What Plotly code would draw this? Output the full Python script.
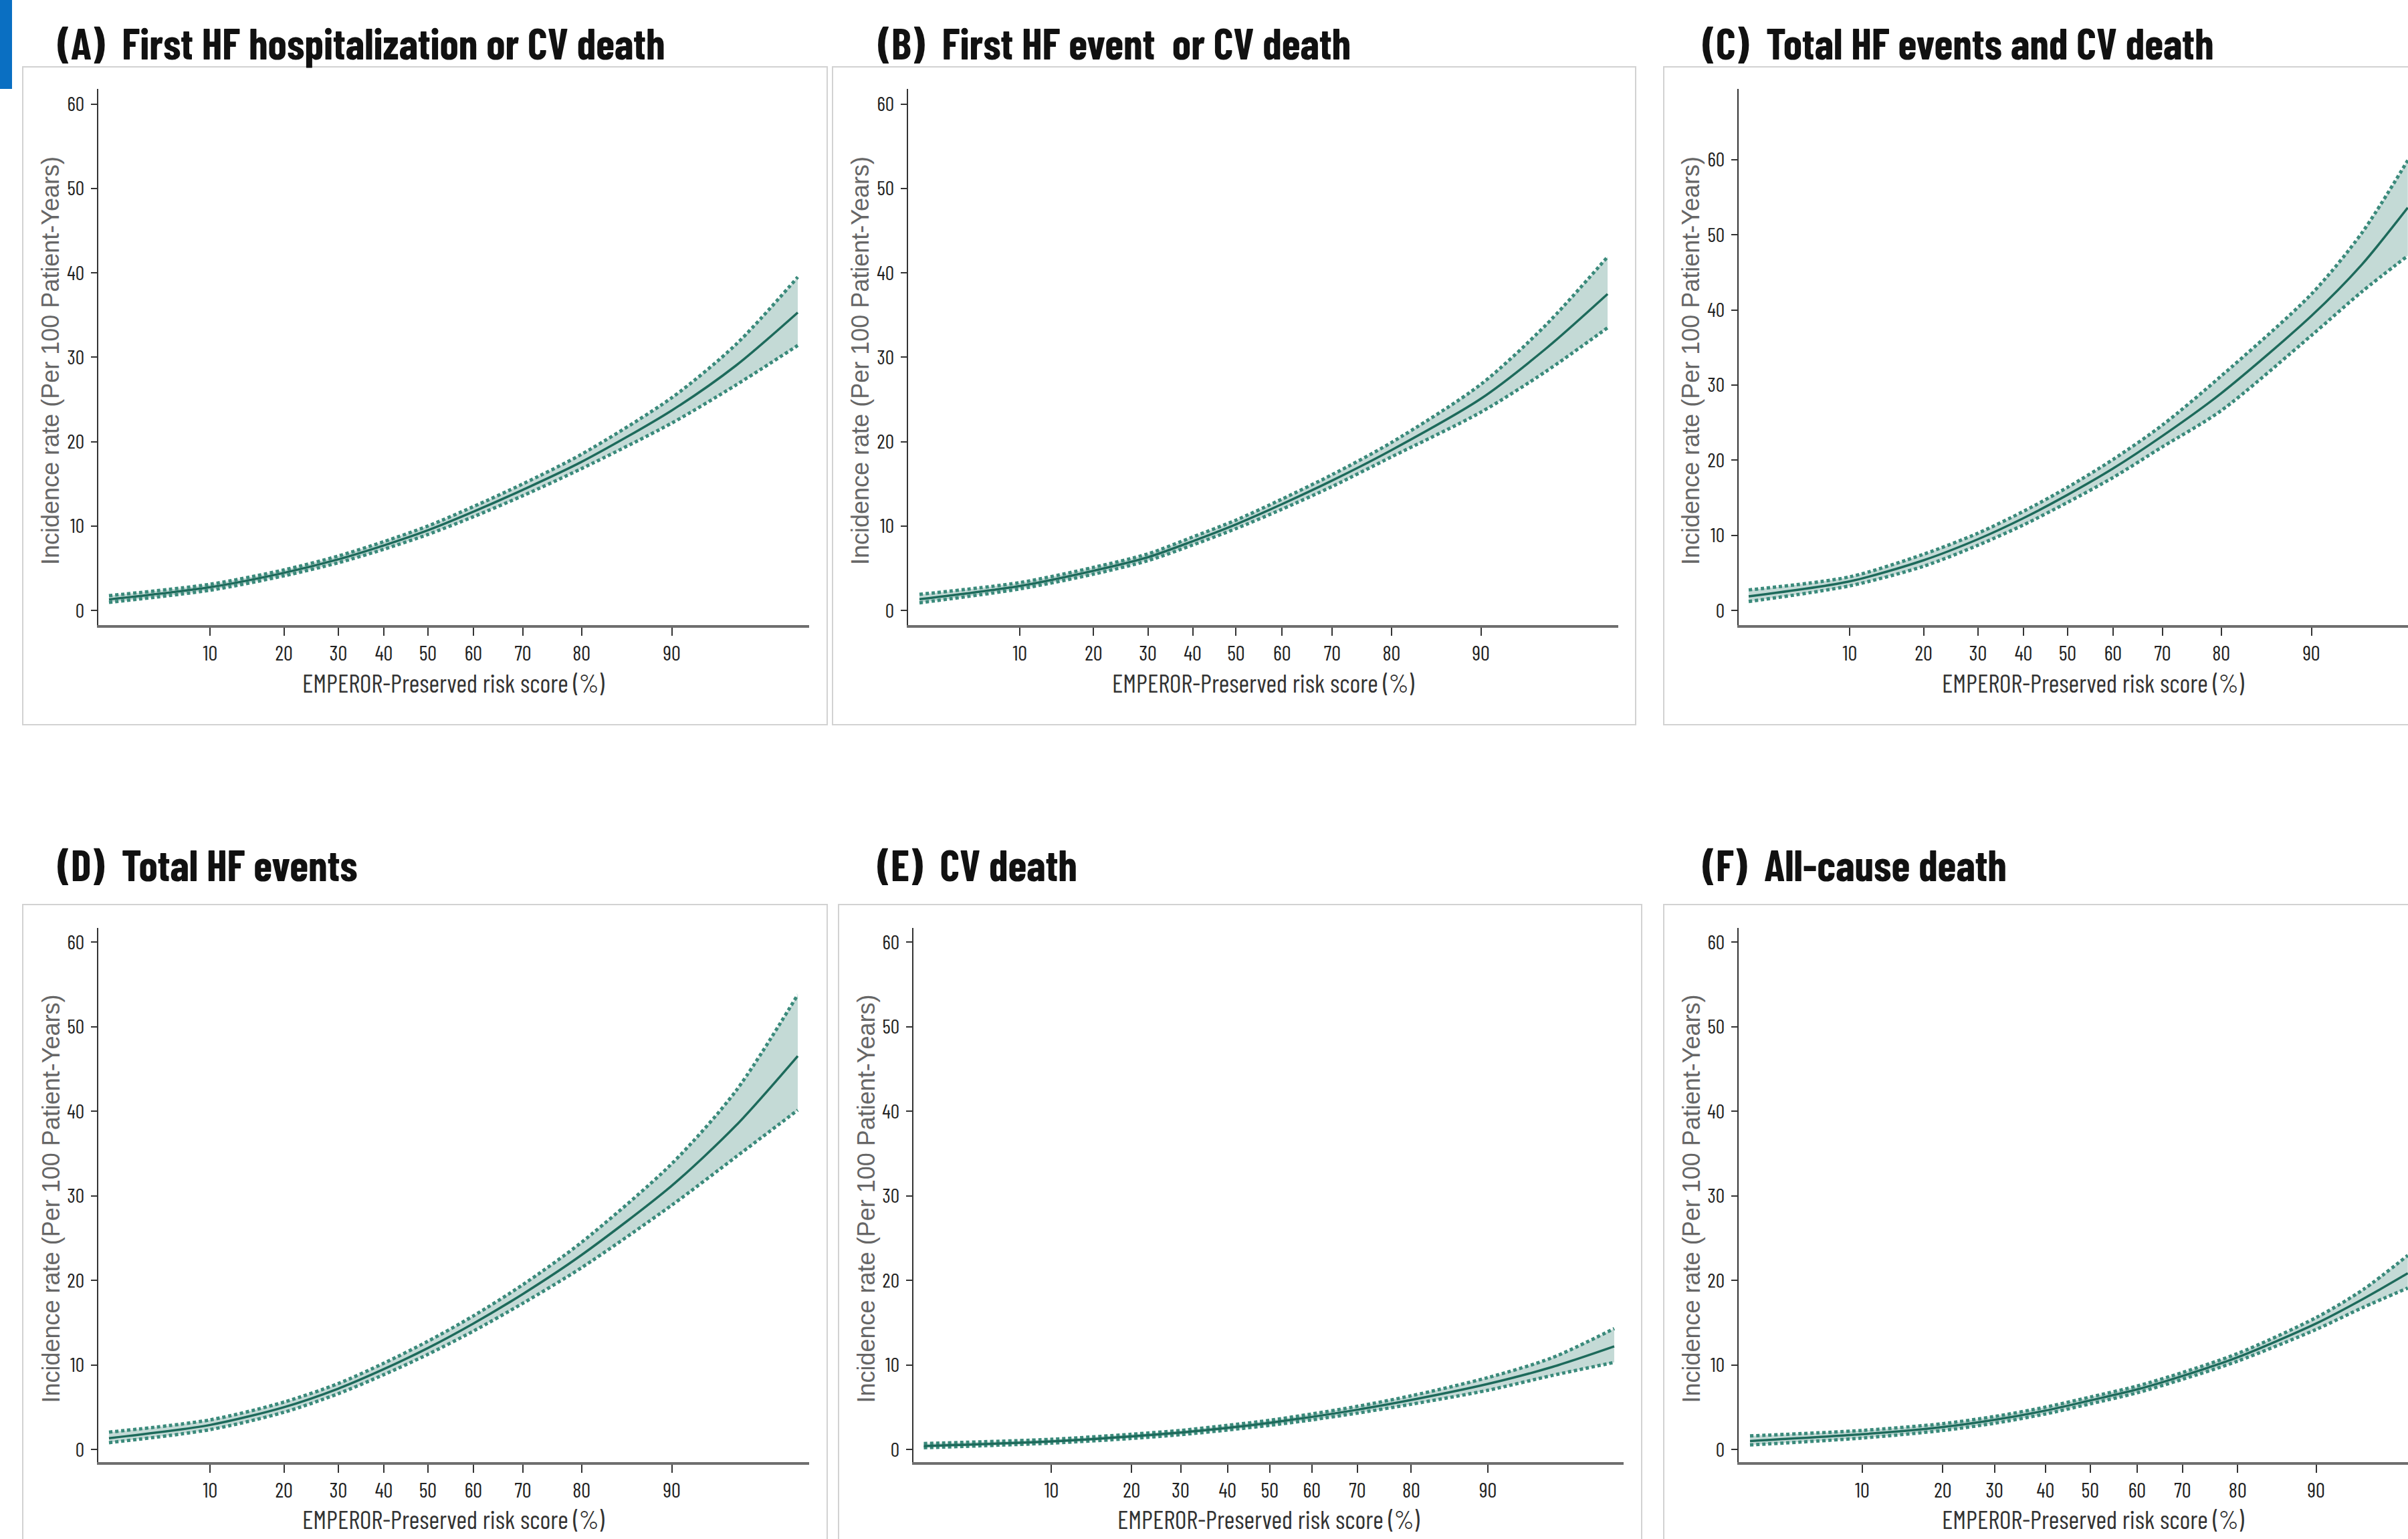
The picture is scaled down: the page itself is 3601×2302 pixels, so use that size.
import plotly.graph_objects as go

W, H = 3601, 2302

# ---------------- text ----------------
TITLES = {
    "A": "(A)  First HF hospitalization or CV death",
    "B": "(B)  First HF event  or CV death",
    "C": "(C)  Total HF events and CV death",
    "D": "(D)  Total HF events",
    "E": "(E)  CV death",
    "F": "(F)  All-cause death",
}
X_TITLE = "EMPEROR-Preserved risk score (%)"
Y_TITLE = "Incidence rate (Per 100 Patient-Years)"
PCT_LABELS = ["10", "20", "30", "40", "50", "60", "70", "80", "90"]
Y_TICKS = [0, 10, 20, 30, 40, 50, 60]

# ---------------- data ----------------
# risk-score positions (0-100 along the modelled score range) of the percentile ticks
A_PCT_POS = [14.7, 25.4, 33.3, 39.9, 46.3, 52.9, 60.1, 68.6, 81.7]
B_PCT_POS = [14.6, 25.3, 33.2, 39.7, 46.0, 52.7, 60.0, 68.6, 81.6]
C_PCT_POS = [14.7, 25.4, 33.3, 39.9, 46.3, 52.9, 60.1, 68.6, 81.7]
D_PCT_POS = [14.7, 25.4, 33.3, 39.9, 46.3, 52.9, 60.1, 68.6, 81.7]
E_PCT_POS = [18.5, 30.1, 37.2, 44.0, 50.1, 56.2, 62.8, 70.6, 81.7]
F_PCT_POS = [16.3, 28.0, 35.5, 42.9, 49.4, 56.2, 62.8, 70.8, 82.2]

A_SCORE = [0, 14.7, 25.4, 33.3, 39.9, 46.3, 52.9, 60.1, 68.6, 81.7, 91.0, 100]
A_RATE = [1.3, 2.75, 4.45, 6.05, 7.7, 9.5, 11.7, 14.3, 17.6, 23.7, 29.0, 35.3]
A_LOWER = [0.95, 2.4, 4.1, 5.65, 7.25, 9.0, 11.1, 13.6, 16.8, 22.2, 26.7, 31.4]
A_UPPER = [1.75, 3.1, 4.8, 6.45, 8.15, 10.0, 12.3, 15.0, 18.5, 25.2, 31.5, 39.5]

B_SCORE = [0, 14.6, 25.3, 33.2, 39.7, 46.0, 52.7, 60.0, 68.6, 81.6, 91.0, 100]
B_RATE = [1.33, 2.9, 4.7, 6.3, 8.2, 10.2, 12.6, 15.4, 19.0, 25.1, 31.0, 37.5]
B_LOWER = [0.9, 2.55, 4.3, 5.9, 7.75, 9.7, 12.0, 14.7, 18.2, 23.5, 28.3, 33.5]
B_UPPER = [1.9, 3.3, 5.1, 6.7, 8.7, 10.7, 13.2, 16.1, 19.9, 26.8, 33.8, 41.9]

C_SCORE = [0, 14.7, 25.4, 33.3, 39.9, 46.3, 52.9, 60.1, 68.6, 81.7, 89.0, 95.7]
C_RATE = [1.9, 3.9, 6.7, 9.5, 12.3, 15.4, 18.9, 23.25, 28.9, 39.2, 46.0, 53.6]
C_LOWER = [1.2, 3.3, 5.9, 8.7, 11.4, 14.4, 17.7, 21.8, 26.6, 36.6, 42.4, 47.2]
C_UPPER = [2.75, 4.5, 7.5, 10.3, 13.2, 16.4, 20.1, 24.7, 31.2, 42.1, 50.2, 59.9]

D_SCORE = [0, 14.7, 25.4, 33.3, 39.9, 46.3, 52.9, 60.1, 68.6, 81.7, 91.0, 100]
D_RATE = [1.33, 2.9, 5.0, 7.2, 9.5, 12.0, 14.9, 18.4, 23.0, 31.2, 38.3, 46.55]
D_LOWER = [0.8, 2.35, 4.4, 6.6, 8.85, 11.25, 14.0, 17.3, 21.5, 28.9, 34.6, 40.15]
D_UPPER = [2.05, 3.5, 5.6, 7.8, 10.2, 12.8, 15.8, 19.5, 24.5, 33.8, 42.4, 53.8]

E_SCORE = [0, 18.5, 30.1, 37.2, 44.0, 50.1, 56.2, 62.8, 70.6, 81.7, 91.0, 100]
E_RATE = [0.4, 0.95, 1.55, 2.0, 2.55, 3.15, 3.85, 4.7, 5.85, 7.75, 9.75, 12.2]
E_LOWER = [0.2, 0.75, 1.3, 1.75, 2.3, 2.85, 3.5, 4.3, 5.35, 7.0, 8.75, 10.3]
E_UPPER = [0.7, 1.2, 1.8, 2.25, 2.85, 3.45, 4.2, 5.1, 6.35, 8.5, 10.85, 14.3]

F_SCORE = [0, 16.3, 28.0, 35.5, 42.9, 49.4, 56.2, 62.8, 70.8, 82.2, 89.0, 95.5]
F_RATE = [1.0, 1.8, 2.65, 3.5, 4.6, 5.8, 7.1, 8.7, 10.9, 14.9, 17.8, 20.85]
F_LOWER = [0.53, 1.35, 2.25, 3.1, 4.2, 5.4, 6.7, 8.3, 10.45, 14.2, 16.8, 19.1]
F_UPPER = [1.6, 2.25, 3.05, 3.9, 5.0, 6.2, 7.5, 9.1, 11.35, 15.6, 18.9, 22.96]

SERIES = {
    "A": (A_SCORE, A_RATE, A_LOWER, A_UPPER, A_PCT_POS),
    "B": (B_SCORE, B_RATE, B_LOWER, B_UPPER, B_PCT_POS),
    "C": (C_SCORE, C_RATE, C_LOWER, C_UPPER, C_PCT_POS),
    "D": (D_SCORE, D_RATE, D_LOWER, D_UPPER, D_PCT_POS),
    "E": (E_SCORE, E_RATE, E_LOWER, E_UPPER, E_PCT_POS),
    "F": (F_SCORE, F_RATE, F_LOWER, F_UPPER, F_PCT_POS),
}

# ---------------- geometry / style (pixels) ----------------
ROWS = [
    dict(box=(100, 1084), axis=(133, 935), title_y=64, xt_y=1021),
    dict(box=(1353, 2400), axis=(1388, 2187), title_y=1292, xt_y=2272),
]
GEOM = {
    "A": dict(row=0, box=(34, 1237), axis=(147, 1210), xr=(-1.55, 101.65), yr=(-1.74, 61.8), tx=84, xtc=678),
    "B": dict(row=0, box=(1245, 2446), axis=(1358, 2420), xr=(-1.65, 101.55), yr=(-1.74, 61.8), tx=1311, xtc=1889),
    "C": dict(row=0, box=(2488, 3750), axis=(2600, 3601), xr=(-1.46, 95.73), yr=(-1.93, 69.4), tx=2544, xtc=3130),
    "D": dict(row=1, box=(34, 1237), axis=(147, 1210), xr=(-1.55, 101.65), yr=(-1.5, 61.7), tx=84, xtc=678),
    "E": dict(row=1, box=(1254, 2455), axis=(1366, 2428), xr=(-1.5, 101.36), yr=(-1.5, 61.7), tx=1310, xtc=1897),
    "F": dict(row=1, box=(2488, 3750), axis=(2600, 3601), xr=(-1.65, 95.53), yr=(-1.5, 61.7), tx=2544, xtc=3130),
}

NARROW = "Barlow Condensed, Roboto Condensed, Archivo Narrow, sans-serif"
LINE_COLOR = "#1d6a5b"
CI_COLOR = "#3a8a7b"
FILL_COLOR = "rgba(176,206,200,0.75)"


def px(x):
    return x / W


def py(y):
    return 1 - y / H


fig = go.Figure()
layout = dict(
    width=W, height=H, autosize=False,
    margin=dict(l=0, r=0, t=0, b=0),
    paper_bgcolor="white", plot_bgcolor="white",
    showlegend=False,
)
shapes = [dict(type="rect", xref="paper", yref="paper", x0=0, x1=px(18), y0=py(133), y1=1,
               fillcolor="#0a6fc2", line=dict(width=0), layer="above")]
annotations = []

for i, key in enumerate("ABCDEF"):
    n = "" if i == 0 else str(i + 1)
    xa, ya = "x" + n, "y" + n
    score, rate, lower, upper, pct_pos = SERIES[key]
    g = GEOM[key]
    r = ROWS[g["row"]]

    fig.add_trace(go.Scatter(x=score, y=lower, xaxis=xa, yaxis=ya, mode="lines",
                             line=dict(color=CI_COLOR, width=5, dash="5px,4px", shape="spline", smoothing=0.8),
                             hoverinfo="skip"))
    fig.add_trace(go.Scatter(x=score, y=upper, xaxis=xa, yaxis=ya, mode="lines", fill="tonexty",
                             fillcolor=FILL_COLOR,
                             line=dict(color=CI_COLOR, width=5, dash="5px,4px", shape="spline", smoothing=0.8),
                             hoverinfo="skip"))
    fig.add_trace(go.Scatter(x=score, y=rate, xaxis=xa, yaxis=ya, mode="lines",
                             line=dict(color=LINE_COLOR, width=3.5, shape="spline", smoothing=0.8)))

    layout["xaxis" + n] = dict(
        domain=[px(g["axis"][0]), px(g["axis"][1])], range=list(g["xr"]), anchor=ya,
        tickmode="array", tickvals=pct_pos, ticktext=PCT_LABELS,
        showline=True, linecolor="#6e6e6e", linewidth=4, mirror=False,
        ticks="outside", ticklen=12, tickwidth=2, tickcolor="#333333",
        tickfont=dict(family=NARROW, size=31, color="#222222"), ticklabelstandoff=0,
        showgrid=False, zeroline=False, fixedrange=True,
    )
    layout["yaxis" + n] = dict(
        domain=[py(r["axis"][1]), py(r["axis"][0])], range=list(g["yr"]), anchor=xa,
        tickmode="array", tickvals=Y_TICKS, ticktext=[str(v) for v in Y_TICKS],
        showline=True, linecolor="#333333", linewidth=2,
        ticks="outside", ticklen=9, tickwidth=2, tickcolor="#333333",
        tickfont=dict(family=NARROW, size=30, color="#222222"), ticklabelstandoff=4,
        showgrid=False, zeroline=False, fixedrange=True,
    )

    shapes.append(dict(type="rect", xref="paper", yref="paper",
                       x0=px(g["box"][0]), x1=px(g["box"][1]), y0=py(r["box"][1]), y1=py(r["box"][0]),
                       line=dict(color="#d2d2d2", width=2), fillcolor="rgba(0,0,0,0)", layer="below"))

    annotations.append(dict(text=TITLES[key], xref="paper", yref="paper", x=px(g["tx"]), y=py(r["title_y"]),
                            xanchor="left", yanchor="middle", showarrow=False,
                            font=dict(family=NARROW, size=64, color="#111111", weight=700)))
    annotations.append(dict(text=X_TITLE, xref="paper", yref="paper", x=px(g["xtc"]), y=py(r["xt_y"]),
                            xanchor="center", yanchor="middle", showarrow=False,
                            font=dict(family=NARROW, size=38, color="#333333")))
    yc = (r["axis"][0] + r["axis"][1]) / 2 + 6
    annotations.append(dict(text=Y_TITLE, xref="paper", yref="paper", x=px(g["axis"][0] - 71), y=py(yc),
                            xanchor="center", yanchor="middle", showarrow=False, textangle=-90,
                            font=dict(family="Liberation Sans, Arial, sans-serif", size=36, color="#666666")))

layout["shapes"] = shapes
layout["annotations"] = annotations
fig.update_layout(**layout)
fig.write_html("out.html", config={"displayModeBar": False},
               post_script="document.body.style.margin='0';document.body.style.overflow='hidden';")
